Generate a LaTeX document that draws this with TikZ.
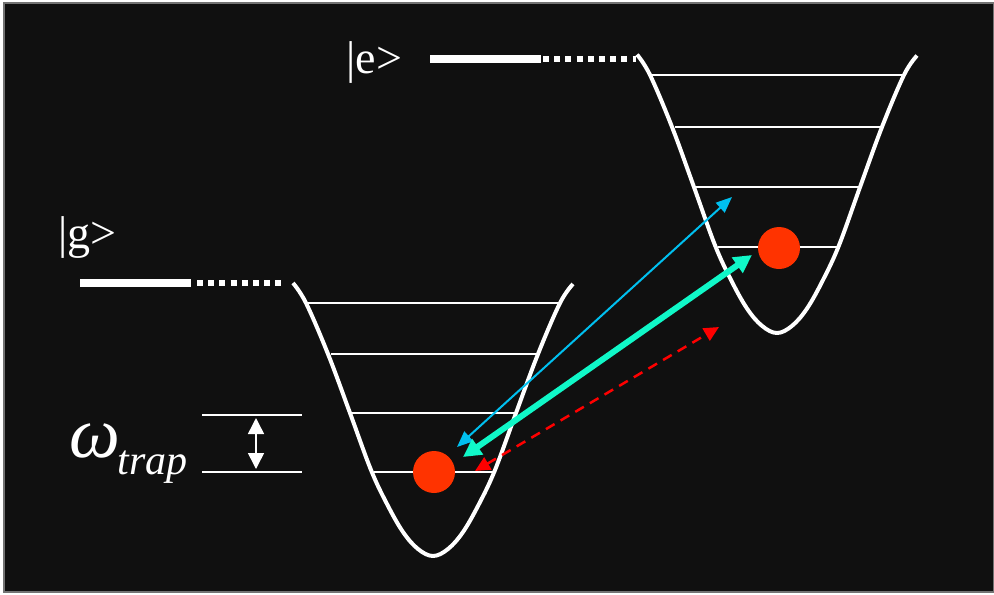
\documentclass[tikz,border=0pt]{standalone}
\usepackage{fontspec}
\setmainfont{Liberation Serif}
\usetikzlibrary{arrows.meta}

\definecolor{bgdark}{HTML}{101010}
\definecolor{ionred}{HTML}{FF3300}
\definecolor{beamblue}{HTML}{00C0F0}
\definecolor{beamgreen}{HTML}{10F8C8}
\definecolor{beamred}{HTML}{FF0000}

\tikzset{
  well/.style={draw=white, line width=2pt, line join=round},
  vib/.style={draw=white!88, line width=1pt},
  solidlevel/.style={draw=white, line width=4pt},
  dotlevel/.style={draw=white, line width=3pt, dash pattern=on 3pt off 2.6pt},
  ion/.style={circle, fill=ionred, minimum size=21pt, inner sep=0pt},
  ket/.style={text=white, inner sep=0pt, anchor=base west, font=\fontsize{23}{23}\selectfont}
}

\begin{document}
\begin{tikzpicture}[x=0.5pt, y=-0.5pt]
      % Background and frame
      \useasboundingbox (0,0) rectangle (994,594);
      \fill[white] (0,0) rectangle (994,594);
      \filldraw[fill=bgdark, draw=black!55, line width=0.6pt] (4,3) rectangle (994,592);

      % Define coordinates
      \coordinate (g_bottom) at (433,556);
      \coordinate (e_bottom) at (777,333);

      % Draw the ground state well
      \begin{scope}[shift={(g_bottom)}]
        \draw[well] plot[smooth, tension=0.6] coordinates {(-140,-273) (-127,-253) (-105,-202) (-83,-143) (-62,-86) (-46,-52) (-30,-24) (-15,-7) (0,0) (15,-7) (30,-24) (46,-52) (62,-86) (83,-143) (105,-202) (127,-253) (140,-272)};
        \draw[vib] (-125,-253) -- (126,-253);
        \draw[vib] (-102,-202) -- (104,-202);
        \draw[vib] (-81,-143) -- (83,-143);
        \draw[vib] (-59,-84) -- (60,-84);
      \end{scope}

      % Draw the excited state well
      \begin{scope}[shift={(e_bottom)}, yscale=1.02]
        \draw[well] plot[smooth, tension=0.6] coordinates {(-140,-273) (-127,-253) (-105,-202) (-83,-143) (-62,-86) (-46,-52) (-30,-24) (-15,-7) (0,0) (15,-7) (30,-24) (46,-52) (62,-86) (83,-143) (105,-202) (127,-253) (140,-272)};
        \draw[vib] (-125,-253) -- (126,-253);
        \draw[vib] (-102,-202) -- (104,-202);
        \draw[vib] (-81,-143) -- (83,-143);
        \draw[vib] (-59,-84) -- (60,-84);
      \end{scope}

      % Electronic levels
      \coordinate (e_start) at (430,59);
      \coordinate (e_mid) at (541,59);
      \coordinate (e_end) at (636,59);
      \draw[solidlevel] (e_start) -- (e_mid);
      \draw[dotlevel] ([xshift=1pt]e_mid) -- (e_end);
      \node[ket] (ket_e) at (346,73) {|e>};

      \coordinate (g_start) at (80,283);
      \coordinate (g_mid) at (191,283);
      \coordinate (g_end) at (283,283);
      \draw[solidlevel] (g_start) -- (g_mid);
      \draw[dotlevel] ([xshift=3pt]g_mid) -- (g_end);
      \node[ket] (ket_g) at (58,248) {|g>};

      % Trap frequency marker
      \draw[vib] (202,415) -- (302,415);
      \draw[vib] (202,472) -- (302,472);
      \coordinate (gap_top) at (256,418);
      \coordinate (gap_bot) at (256,469);
      \draw[white, line width=0.75pt, {Triangle[length=8pt, width=8pt]}-{Triangle[length=8pt, width=8pt]}] (gap_top) -- (gap_bot);
      \node[text=white, inner sep=0pt, anchor=base west, font=\fontsize{36}{36}\selectfont\itshape] (omega) at (69,457) {ω};
      \node[text=white, inner sep=0pt, anchor=base west, font=\fontsize{21}{21}\selectfont\itshape] (trap) at (117,474) {trap};

      % Ions
      \node[ion] (ion_g) at (434,472) {};
      \node[ion] (ion_e) at (779,248) {};

      % Laser transitions
      \coordinate (blue_lo) at (457,447);
      \coordinate (blue_hi) at (732,197);
      \coordinate (green_lo) at (463,457);
      \coordinate (green_hi) at (752,255);
      \coordinate (red_lo) at (475,471);
      \coordinate (red_hi) at (719,327);
      \draw[beamblue, line width=1pt, {Triangle[length=8pt, width=6.5pt]}-{Triangle[length=8pt, width=6.5pt]}] (blue_lo) -- (blue_hi);
      \draw[beamgreen, line width=3pt, {Triangle[length=9pt, width=9pt]}-{Triangle[length=9pt, width=9pt]}] (green_lo) -- (green_hi);
      \draw[beamred, line width=1.25pt, dash pattern=on 5pt off 3.5pt, {Triangle[length=7.5pt, width=7pt]}-{Triangle[length=7.5pt, width=7pt]}] (red_lo) -- (red_hi);
    \end{tikzpicture}
\end{document}
